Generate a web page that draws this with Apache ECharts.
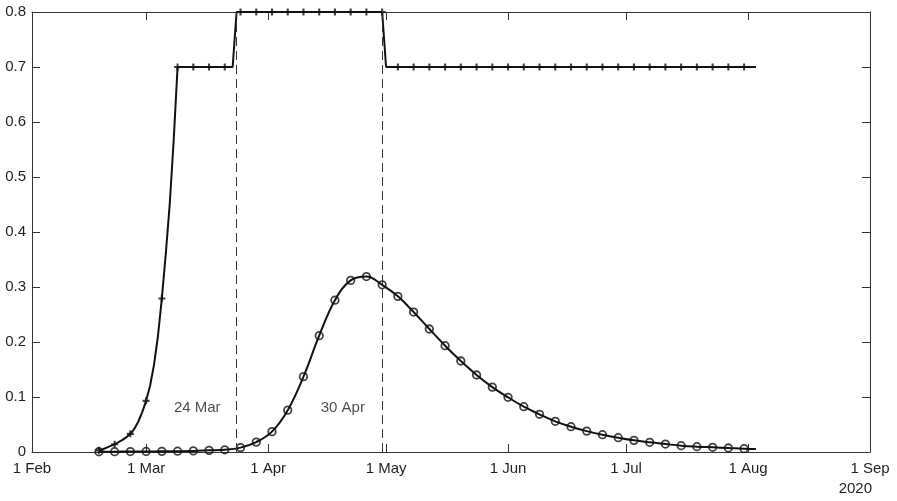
<!DOCTYPE html>
<html>
<head>
<meta charset="utf-8">
<script src="https://cdn.jsdelivr.net/npm/echarts@6/dist/echarts.min.js"></script>
<style>
  html, body { margin: 0; padding: 0; background: #fff; }
  #chart { width: 897px; height: 501px; }
</style>
</head>
<body>
<div id="chart"></div>
<script>
// tick positions and labels on the date axis
var tickDates = ['2020-02-01', '2020-03-01', '2020-04-01', '2020-05-01', '2020-06-01', '2020-07-01', '2020-08-01', '2020-09-01'];
var tickLabels = ['1 Feb', '1 Mar', '1 Apr', '1 May', '1 Jun', '1 Jul', '1 Aug', '1 Sep'];

// marker dates (every 4th day)
var markerDates = [
    '2020-02-18', '2020-02-22', '2020-02-26', '2020-03-01', '2020-03-05', '2020-03-09', '2020-03-13',
    '2020-03-17', '2020-03-21', '2020-03-25', '2020-03-29', '2020-04-02', '2020-04-06', '2020-04-10',
    '2020-04-14', '2020-04-18', '2020-04-22', '2020-04-26', '2020-04-30', '2020-05-04', '2020-05-08',
    '2020-05-12', '2020-05-16', '2020-05-20', '2020-05-24', '2020-05-28', '2020-06-01', '2020-06-05',
    '2020-06-09', '2020-06-13', '2020-06-17', '2020-06-21', '2020-06-25', '2020-06-29', '2020-07-03',
    '2020-07-07', '2020-07-11', '2020-07-15', '2020-07-19', '2020-07-23', '2020-07-27', '2020-07-31'
];
var upperMarkers = [
    0.003, 0.014, 0.033, 0.093, 0.279, 0.7, 0.7, 0.7, 0.7,
    0.8, 0.8, 0.8, 0.8, 0.8, 0.8, 0.8, 0.8, 0.8, 0.8,
    0.7, 0.7, 0.7, 0.7, 0.7, 0.7, 0.7, 0.7, 0.7, 0.7, 0.7, 0.7,
    0.7, 0.7, 0.7, 0.7, 0.7, 0.7, 0.7, 0.7, 0.7, 0.7, 0.7
];
var lowerMarkers = [
    0.0005, 0.0006, 0.0008, 0.001, 0.0012, 0.0015, 0.002, 0.003, 0.004, 0.008, 0.018,
    0.037, 0.076, 0.137, 0.2115, 0.276, 0.312, 0.319, 0.304, 0.283, 0.2545,
    0.2236, 0.1933, 0.1655, 0.14, 0.118, 0.0994, 0.0824, 0.0685, 0.0558, 0.046,
    0.038, 0.0315, 0.026, 0.0212, 0.0176, 0.0145, 0.0115, 0.0097, 0.0085, 0.0073, 0.006
];

// full line of the upper curve (daily in the rise, then the steps)
var upperLineDates = [
    '2020-02-18', '2020-02-19', '2020-02-20', '2020-02-21', '2020-02-22', '2020-02-23', '2020-02-24',
    '2020-02-25', '2020-02-26', '2020-02-27', '2020-02-28', '2020-02-29', '2020-03-01', '2020-03-02',
    '2020-03-03', '2020-03-04', '2020-03-05', '2020-03-06', '2020-03-07', '2020-03-08', '2020-03-09',
    '2020-03-23', '2020-03-24', '2020-04-30', '2020-05-01', '2020-08-03'
];
var upperLineValues = [
    0.003, 0.005, 0.008, 0.011, 0.014, 0.018, 0.022,
    0.027, 0.033, 0.042, 0.055, 0.072, 0.093, 0.12,
    0.158, 0.21, 0.279, 0.36, 0.45, 0.565, 0.7,
    0.7, 0.8, 0.8, 0.7, 0.7
];
// end of the lower line past the last marker
var lowerEndDate = '2020-08-03';
var lowerEndValue = 0.0055;

// event lines and their notes
var eventDates = ['2020-03-24', '2020-04-30'];
var eventLabels = ['24 Mar', '30 Apr'];
var eventLabelY = 0.08;

var DAY = 86400000;
function toTime(s) { return new Date(s + 'T00:00:00').getTime(); }

var tickTimes = tickDates.map(toTime);

var upperLine = upperLineDates.map(function (d, i) { return [toTime(d), upperLineValues[i]]; });
var upperPts = markerDates.map(function (d, i) { return [toTime(d), upperMarkers[i]]; });
var lowerPts = markerDates.map(function (d, i) { return [toTime(d), lowerMarkers[i]]; });
var lowerLine = lowerPts.concat([[toTime(lowerEndDate), lowerEndValue]]);
var notes = eventDates.map(function (d, i) {
    return { name: eventLabels[i], value: [toTime(d) - 10 * DAY, eventLabelY] };
});

var FONT = '"Liberation Sans", Arial, Helvetica, sans-serif';
var TEXT = '#1f1f1f';
var AXIS = '#333';
var INK = '#111';
// filled plus sign
var plus = 'path://M3.5,0 H6.5 V3.5 H10 V6.5 H6.5 V10 H3.5 V6.5 H0 V3.5 H3.5 Z';

var myChart = echarts.init(document.getElementById('chart'));

function xAxisDef(pos, labels) {
    return {
        type: 'value',
        position: pos,
        min: tickTimes[0],
        max: tickTimes[tickTimes.length - 1],
        axisLine: { show: true, onZero: false, lineStyle: { color: AXIS, width: 1 } },
        axisTick: { show: true, inside: true, length: 8, customValues: tickTimes, lineStyle: { color: AXIS } },
        axisLabel: {
            show: labels,
            customValues: tickTimes,
            margin: 9,
            color: TEXT,
            fontFamily: FONT,
            fontSize: 15,
            formatter: function (v) {
                var i = tickTimes.indexOf(v);
                return i >= 0 ? tickLabels[i] : '';
            }
        },
        splitLine: { show: false }
    };
}

function yAxisDef(pos, labels) {
    return {
        type: 'value',
        position: pos,
        min: 0,
        max: 0.8,
        interval: 0.1,
        axisLine: { show: true, onZero: false, lineStyle: { color: AXIS, width: 1 } },
        axisTick: { show: true, inside: true, length: 8, lineStyle: { color: AXIS } },
        axisLabel: { show: labels, margin: 6, color: TEXT, fontFamily: FONT, fontSize: 15 },
        splitLine: { show: false }
    };
}

var option = {
    animation: false,
    backgroundColor: '#fff',
    grid: { left: 32, right: 27, top: 12, bottom: 49 },
    xAxis: [xAxisDef('bottom', true), xAxisDef('top', false)],
    yAxis: [yAxisDef('left', true), yAxisDef('right', false)],
    graphic: [{
        type: 'text',
        right: 25,
        top: 481,
        style: { text: '2020', fill: TEXT, font: '15px ' + FONT }
    }],
    series: [
        {
            name: 'upper',
            type: 'line',
            data: upperLine,
            showSymbol: false,
            symbol: 'none',
            clip: false,
            lineStyle: { color: INK, width: 2 },
            markLine: {
                silent: true,
                symbol: 'none',
                label: { show: false },
                lineStyle: { color: '#333', width: 1, type: [9, 5] },
                data: eventDates.map(function (d) { return { xAxis: toTime(d) }; })
            },
            z: 3
        },
        {
            name: 'upper markers',
            type: 'scatter',
            data: upperPts,
            symbol: plus,
            symbolSize: 7,
            clip: false,
            itemStyle: { color: INK },
            z: 4
        },
        {
            name: 'lower',
            type: 'line',
            data: lowerLine,
            smooth: 0.4,
            showSymbol: false,
            symbol: 'none',
            clip: false,
            lineStyle: { color: INK, width: 2 },
            z: 3
        },
        {
            name: 'lower markers',
            type: 'scatter',
            data: lowerPts,
            symbol: 'circle',
            symbolSize: 7.5,
            clip: false,
            itemStyle: { color: 'transparent', borderColor: INK, borderWidth: 1.8 },
            z: 4
        },
        {
            name: 'notes',
            type: 'scatter',
            data: notes,
            symbolSize: 0,
            label: {
                show: true,
                position: 'inside',
                formatter: '{b}',
                color: TEXT,
                fontFamily: FONT,
                fontSize: 15
            },
            z: 5
        }
    ]
};

myChart.setOption(option);
</script>
</body>
</html>
